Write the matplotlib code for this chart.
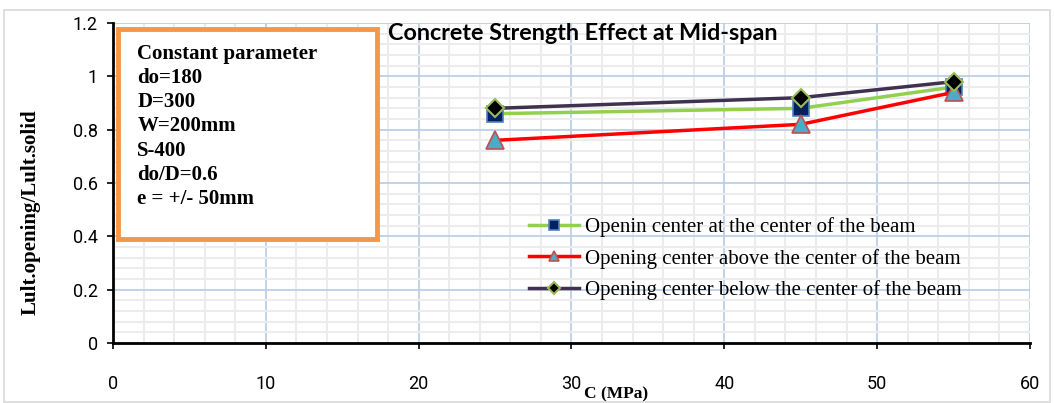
import matplotlib
matplotlib.use("Agg")
import matplotlib.pyplot as plt
from matplotlib.patches import Rectangle
from matplotlib.ticker import MultipleLocator

# data
strength = [25, 45, 55]
center = [0.86, 0.88, 0.96]
above = [0.76, 0.82, 0.94]
below = [0.88, 0.92, 0.98]

labels = ["Openin center at the center of the beam",
          "Opening center above the center of the beam",
          "Opening center below the center of the beam"]

x_ticks = [0, 10, 20, 30, 40, 50, 60]
y_ticks = [0, 0.2, 0.4, 0.6, 0.8, 1.0, 1.2]
y_tick_labels = ["0", "0.2", "0.4", "0.6", "0.8", "1", "1.2"]

params = ["Constant parameter", "do=180", "D=300", "W=200mm",
          "S-400", "do/D=0.6", "e = +/- 50mm"]

narrow = ["Roboto", "DejaVu Sans"]
title_font = ["Lato", "DejaVu Sans"]
serif = ["Liberation Serif", "DejaVu Serif"]

fig = plt.figure(figsize=(10.54, 4.03), dpi=100)
fig.patches.append(Rectangle((0.004, 0.003), 0.992, 0.972, transform=fig.transFigure,
                             fill=False, edgecolor="#d9d9d9", linewidth=1.2))
ax = fig.add_axes([0.1072, 0.1489, 0.870, 0.794])

ax.plot(strength, center, color="#92D050", linewidth=2.5, marker="s", markersize=12,
        markerfacecolor="#002060", markeredgecolor="#4F81BD", markeredgewidth=1.2,
        label=labels[0], zorder=3)
ax.plot(strength, above, color="#FF0000", linewidth=2.5, marker="^", markersize=13,
        markerfacecolor="#4BACC6", markeredgecolor="#C0504D", markeredgewidth=1.2,
        label=labels[1], zorder=4)
ax.plot(strength, below, color="#403151", linewidth=2.5, marker="D", markersize=9.5,
        markerfacecolor="black", markeredgecolor="#9BBB59", markeredgewidth=1.5,
        label=labels[2], zorder=5)

ax.set_xlim(0, 60)
ax.set_ylim(0, 1.2)
ax.set_xticks(x_ticks)
ax.set_yticks(y_ticks)
ax.set_yticklabels(y_tick_labels)
ax.xaxis.set_minor_locator(MultipleLocator(2))
ax.yaxis.set_minor_locator(MultipleLocator(0.04))
ax.grid(which="minor", color="#ececec", linewidth=1.5, zorder=0)
ax.grid(which="major", color="#b8cce4", linewidth=1.2, zorder=1)
ax.set_axisbelow(True)
ax.tick_params(which="minor", length=0)
ax.tick_params(which="major", direction="out", length=4, width=1.2, color="black")
ax.tick_params(axis="x", pad=19)
ax.tick_params(axis="y", pad=7)
for t in ax.get_xticklabels() + ax.get_yticklabels():
    t.set_fontfamily(narrow)
    t.set_fontsize(13)

for side in ["top", "right"]:
    ax.spines[side].set_visible(False)
for side in ["left", "bottom"]:
    ax.spines[side].set_linewidth(2)
    ax.spines[side].set_color("black")

ax.set_xlabel("C (MPa)", family=serif, fontweight="bold", fontsize=12.5)
ax.xaxis.set_label_coords(0.5485, -0.135)
ax.set_ylabel("Lult.opening/Lult.solid", family=serif, fontweight="bold", fontsize=15)
ax.yaxis.set_label_coords(-0.079, 0.41)

ax.text(0.5125, 0.967, "Concrete Strength Effect at Mid-span", transform=ax.transAxes,
        ha="center", va="center", family=title_font, fontweight="bold", fontsize=16.8)

# parameter box
ax.add_patch(Rectangle((0.0055, 0.325), 0.2825, 0.655, transform=ax.transAxes,
                       facecolor="white", edgecolor="#F79646", linewidth=3.5, zorder=6))
ax.text(0.0265, 0.935, "\n".join(params), transform=ax.transAxes, ha="left", va="top",
        family=serif, fontweight="bold", fontsize=15, linespacing=1.28, zorder=7)

leg = ax.legend(loc="upper left", bbox_to_anchor=(0.445, 0.42), frameon=False,
                prop={"family": serif, "size": 15}, handlelength=2.4, markerscale=0.6,
                handletextpad=0.25, labelspacing=0.57, borderaxespad=0)

fig.savefig("out.png", dpi=100)
